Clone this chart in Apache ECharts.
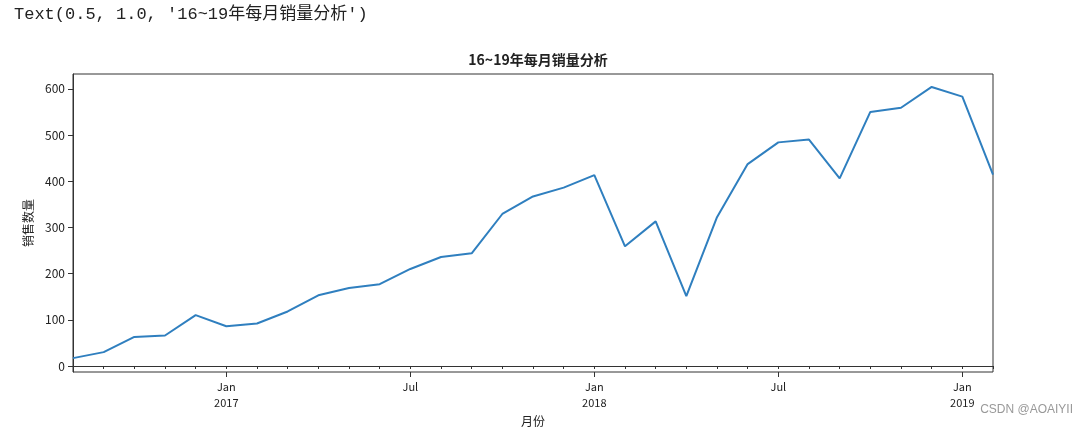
<!DOCTYPE html>
<html>
<head>
<meta charset="utf-8">
<script src="https://cdn.jsdelivr.net/npm/echarts@6/dist/echarts.min.js"></script>
<style>html,body{margin:0;padding:0;background:#fff;}#c{width:1087px;height:427px;}</style>
</head>
<body>
<div id="c"></div>
<script>
const months = ['2016-08','2016-09','2016-10','2016-11','2016-12',
  '2017-01','2017-02','2017-03','2017-04','2017-05','2017-06','2017-07','2017-08','2017-09','2017-10','2017-11','2017-12',
  '2018-01','2018-02','2018-03','2018-04','2018-05','2018-06','2018-07','2018-08','2018-09','2018-10','2018-11','2018-12',
  '2019-01','2019-02'];
const sales = [17, 30, 63, 66, 110,
  86, 92, 118, 153, 169, 177, 210, 236, 244, 329, 367, 386,
  413, 259, 313, 151, 322, 437, 484, 490, 406, 550, 559, 604,
  583, 414];
const yTicks = [0, 100, 200, 300, 400, 500, 600];
const titleText = '16~19年每月销量分析';
const cellText = "Text(0.5, 1.0, '16~19年每月销量分析')";

const chart = echarts.init(document.getElementById('c'), null, {renderer:'canvas'});
const isMajor = (v) => v.slice(5) === '01' || v.slice(5) === '07';
const font = "'Noto Sans CJK SC', 'DejaVu Sans', sans-serif";
chart.setOption({
  backgroundColor: '#fff',
  animation: false,
  title: {
    text: titleText, left: 533, top: 48, textAlign: 'center',
    textStyle: {fontFamily: font, fontSize: 14, fontWeight: 'bold', color: '#222'}
  },
  graphic: [
    {type: 'text', left: 14, top: 6, style: {text: cellText, fontFamily: "'Liberation Mono', 'Noto Sans CJK SC', monospace", fontSize: 17, fill: '#222'}},
    {type: 'text', right: 14, top: 404, style: {text: 'CSDN @AOAIYII', fontFamily: "'Liberation Sans', Arial, sans-serif", fontSize: 12, fill: '#999'}}
  ],
  grid: {left: 73, right: 94, top: 74, bottom: 55, containLabel: false, outerBoundsMode: 'none',
    show: true, borderColor: '#333', borderWidth: 1, backgroundColor: 'transparent'},
  xAxis: [{
    type: 'category', data: months, boundaryGap: false,
    name: '月份', nameLocation: 'middle', nameGap: 38,
    nameTextStyle: {fontFamily: font, fontSize: 12, color: '#222'},
    axisLine: {lineStyle: {color: '#333', width: 1}},
    axisTick: {show: true, interval: 0, length: 3, lineStyle: {color: '#333'}},
    axisLabel: {
      interval: 0, margin: 7, fontFamily: font, fontSize: 11, color: '#222', lineHeight: 16,
      formatter: (v) => {
        const m = v.slice(5);
        if (m === '01') return 'Jan\n' + v.slice(0,4);
        if (m === '07') return 'Jul';
        return '';
      }
    },
    splitLine: {show: false}
  }, {
    type: 'category', data: months, boundaryGap: false, position: 'bottom', gridIndex: 0,
    axisLine: {show: false},
    axisTick: {show: true, length: 5, interval: (i, v) => isMajor(v), lineStyle: {color: '#333'}},
    axisLabel: {show: false},
    splitLine: {show: false}
  }],
  yAxis: {
    type: 'value', min: -13, max: 632,
    name: '销售数量', nameLocation: 'middle', nameGap: 33,
    nameTextStyle: {fontFamily: font, fontSize: 12, color: '#222'},
    axisLine: {show: true, lineStyle: {color: '#333'}},
    axisTick: {show: true, length: 5, customValues: yTicks, lineStyle: {color: '#333'}},
    axisLabel: {customValues: yTicks, margin: 8, fontFamily: font, fontSize: 12, color: '#222'},
    splitLine: {show: false}
  },
  series: [{
    type: 'line', data: sales, xAxisIndex: 0, showSymbol: false, symbol: 'none',
    lineStyle: {color: '#2f7fbf', width: 2}
  }]
});
</script>
</body>
</html>
